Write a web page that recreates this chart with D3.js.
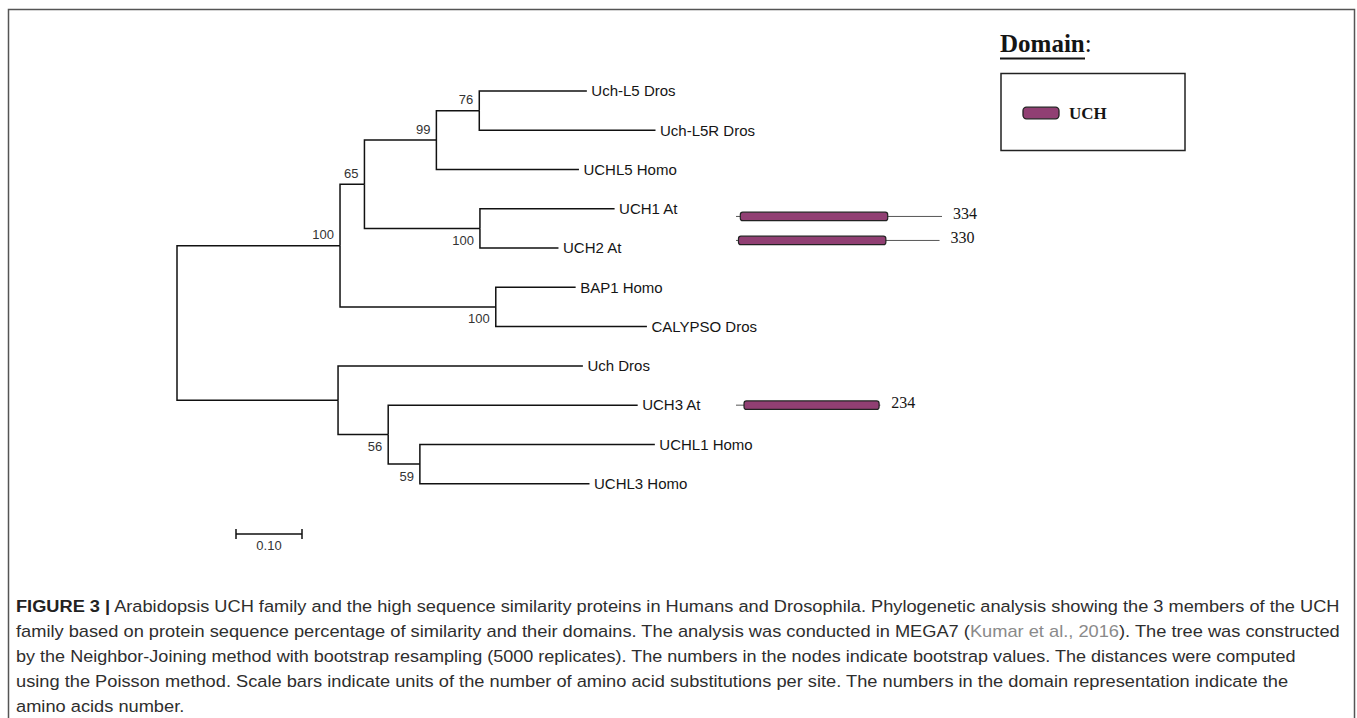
<!DOCTYPE html>
<html>
<head>
<meta charset="utf-8">
<script src="https://cdn.jsdelivr.net/npm/d3@7"></script>
<style>
  body { margin: 0; background: #fff; }
  svg { display: block; }
  .tip { font-family: "Liberation Sans", Arial, sans-serif; font-size: 15px; fill: #151515; }
  .boot { font-family: "Liberation Sans", Arial, sans-serif; font-size: 13px; fill: #333; }
  .serif { font-family: "Liberation Serif", "Times New Roman", serif; fill: #151515; }
  .caption { font-family: "Liberation Sans", Arial, sans-serif; font-size: 17px; fill: #2e2e2e; }
</style>
</head>
<body>
<div class="graph"></div>
<script>
// tree nodes (parents listed before children, tips in drawing order)
var nodeIds = ["root", "n100a", "n65", "n99", "n76", "Uch-L5 Dros", "Uch-L5R Dros", "UCHL5 Homo",
  "nAt", "UCH1 At", "UCH2 At", "nBap", "BAP1 Homo", "CALYPSO Dros",
  "nB", "Uch Dros", "n56", "UCH3 At", "n59", "UCHL1 Homo", "UCHL3 Homo"];
var nodeParents = ["", "root", "n100a", "n65", "n99", "n76", "n76", "n99",
  "n65", "nAt", "nAt", "n100a", "nBap", "nBap",
  "root", "nB", "nB", "n56", "n56", "n59", "n59"];
var branchLengths = [0, 0.247, 0.037, 0.109, 0.065, 0.163, 0.267, 0.216,
  0.175, 0.204, 0.119, 0.236, 0.121, 0.229,
  0.244, 0.371, 0.076, 0.378, 0.048, 0.356, 0.257];
var bootstrap = [null, 100, 65, 99, 76, null, null, null,
  100, null, null, 100, null, null,
  null, null, 56, null, 59, null, null];

// domain representation
var domainProteins = ["UCH1 At", "UCH2 At", "UCH3 At"];
var proteinLengths = [334, 330, 234];
var domainStarts = [7, 4, 13];
var domainEnds = [246, 243, 232];
var domainNames = ["UCH"];

var scaleBarValue = 0.10;

var captionLines = [
  [["FIGURE 3 |", "b"], [" Arabidopsis UCH family and the high sequence similarity proteins in Humans and Drosophila. Phylogenetic analysis showing the 3 members of the UCH", ""]],
  [["family based on protein sequence percentage of similarity and their domains. The analysis was conducted in MEGA7 (", ""], ["Kumar et al., 2016", "link"], ["). The tree was constructed", ""]],
  [["by the Neighbor-Joining method with bootstrap resampling (5000 replicates). The numbers in the nodes indicate bootstrap values. The distances were computed", ""]],
  [["using the Poisson method. Scale bars indicate units of the number of amino acid substitutions per site. The numbers in the domain representation indicate the", ""]],
  [["amino acids number.", ""]]
];
var captionRight = [1340, 1341, 1297, 1289, null];

var width = 1357, height = 718;
var purple = "#913f73";

var svg = d3.select(".graph").append("svg")
    .attr("width", width)
    .attr("height", height);

// figure frame
svg.append("rect")
    .attr("x", 8.5).attr("y", 9.5)
    .attr("width", 1346).attr("height", 730)
    .attr("fill", "none")
    .attr("stroke", "#555")
    .attr("stroke-width", 1.5);

// ---- tree ----
var table = nodeIds.map(function(id, i) {
  return {id: id, parent: nodeParents[i], len: branchLengths[i], boot: bootstrap[i]};
});
var root = d3.stratify()
    .id(function(d) { return d.id; })
    .parentId(function(d) { return d.parent || null; })(table);

root.eachBefore(function(d) {
  d.dist = (d.parent ? d.parent.dist : 0) + d.data.len;
});
var leaves = root.leaves();
leaves.forEach(function(d, i) { d.row = i; });
root.eachAfter(function(d) {
  if (d.children) d.row = (d.children[0].row + d.children[d.children.length - 1].row) / 2;
});

var x = d3.scaleLinear().domain([0, 0.1]).range([177, 243]);
var y = d3.scaleLinear().domain([0, leaves.length - 1]).range([91, 483.7]);

var tree = svg.append("g");

tree.selectAll(".link")
    .data(root.descendants().filter(function(d) { return d.parent; }))
  .enter().append("path")
    .attr("class", "link")
    .attr("fill", "none")
    .attr("stroke", "#111")
    .attr("stroke-width", 1.5)
    .attr("d", function(d) {
      return "M" + x(d.parent.dist) + "," + y(d.parent.row) +
             "V" + y(d.row) + "H" + x(d.dist);
    });

tree.selectAll(".tip")
    .data(leaves)
  .enter().append("text")
    .attr("class", "tip")
    .attr("x", function(d) { return x(d.dist) + 4.5; })
    .attr("y", function(d) { return y(d.row); })
    .attr("dy", "0.35em")
    .text(function(d) { return d.id; });

tree.selectAll(".boot")
    .data(root.descendants().filter(function(d) { return d.data.boot != null; }))
  .enter().append("text")
    .attr("class", "boot")
    .attr("text-anchor", "end")
    .attr("x", function(d) { return x(d.dist) - 6; })
    .attr("y", function(d) {
      var upper = d.parent && d.parent.children[0] === d;
      return y(d.row) + (upper ? -6.5 : 16.5);
    })
    .text(function(d) { return d.data.boot; });

// scale bar
var sbX = 236, sbY = 534, sbW = x(scaleBarValue) - x(0);
var sb = svg.append("g").attr("transform", "translate(" + sbX + "," + sbY + ")");
sb.append("path")
    .attr("d", "M0,-5V5M0,0H" + sbW + "M" + sbW + ",-5V5")
    .attr("fill", "none")
    .attr("stroke", "#111")
    .attr("stroke-width", 1.5);
sb.append("text")
    .attr("class", "boot")
    .attr("x", sbW / 2)
    .attr("y", 16)
    .attr("text-anchor", "middle")
    .text(scaleBarValue.toFixed(2));

// ---- domains ----
var xd = d3.scaleLinear().domain([0, 334]).range([736, 942]);
var barH = 8.5, barGap = 24;

var tipByName = {};
leaves.forEach(function(d) { tipByName[d.id] = d; });

var rows = domainProteins.map(function(name, i) {
  var tip = tipByName[name];
  var sibs = tip.parent.children.filter(function(c) { return domainProteins.indexOf(c.id) >= 0; });
  var cy;
  if (sibs.length > 1) {
    var k = sibs.indexOf(tip);
    cy = y(tip.parent.row) + (k - (sibs.length - 1) / 2) * barGap;
  } else {
    cy = y(tip.row);
  }
  return {name: name, len: proteinLengths[i], start: domainStarts[i], end: domainEnds[i], cy: cy};
});

var dom = svg.append("g");
dom.selectAll(".pline")
    .data(rows)
  .enter().append("line")
    .attr("x1", xd(0))
    .attr("x2", function(d) { return xd(d.len); })
    .attr("y1", function(d) { return d.cy; })
    .attr("y2", function(d) { return d.cy; })
    .attr("stroke", "#555")
    .attr("stroke-width", 1);

dom.selectAll(".dbar")
    .data(rows)
  .enter().append("rect")
    .attr("x", function(d) { return xd(d.start); })
    .attr("y", function(d) { return d.cy - barH / 2; })
    .attr("width", function(d) { return xd(d.end) - xd(d.start); })
    .attr("height", barH)
    .attr("rx", 2.5)
    .attr("fill", purple)
    .attr("stroke", "#222")
    .attr("stroke-width", 1.2);

dom.selectAll(".dlen")
    .data(rows)
  .enter().append("text")
    .attr("class", "serif")
    .attr("font-size", 16)
    .attr("x", function(d) { return xd(d.len) + 11; })
    .attr("y", function(d) { return d.cy + 3; })
    .text(function(d) { return d.len; });

// legend
var lg = svg.append("g");
var title = lg.append("text")
    .attr("class", "serif")
    .attr("x", 1000)
    .attr("y", 52)
    .attr("font-size", 25);
title.append("tspan").attr("font-weight", "bold").text("Domain");
title.append("tspan").text(":");
lg.append("line")
    .attr("x1", 1000).attr("x2", 1085)
    .attr("y1", 58.5).attr("y2", 58.5)
    .attr("stroke", "#151515")
    .attr("stroke-width", 2);
lg.append("rect")
    .attr("x", 1001).attr("y", 73.5)
    .attr("width", 184).attr("height", 77)
    .attr("fill", "none")
    .attr("stroke", "#222")
    .attr("stroke-width", 1.5);

var items = lg.selectAll(".item")
    .data(domainNames)
  .enter().append("g")
    .attr("transform", function(d, i) { return "translate(1023," + (113 + i * 24) + ")"; });
items.append("rect")
    .attr("x", 0).attr("y", -5.8)
    .attr("width", 36).attr("height", 11.6)
    .attr("rx", 3.5)
    .attr("fill", purple)
    .attr("stroke", "#222")
    .attr("stroke-width", 1.3);
items.append("text")
    .attr("class", "serif")
    .attr("x", 46)
    .attr("y", 6)
    .attr("font-size", 17)
    .attr("font-weight", "bold")
    .text(function(d) { return d; });

// ---- caption ----
var capX = 16, capY0 = 612, capStep = 25;
var lastScale = 1;
captionLines.forEach(function(segs, i) {
  var t = svg.append("text")
      .attr("class", "caption")
      .attr("transform", "translate(" + capX + "," + (capY0 + i * capStep) + ")");
  segs.forEach(function(s) {
    var ts = t.append("tspan").text(s[0]);
    if (s[1] === "b") ts.attr("font-weight", "bold").attr("fill", "#222");
    if (s[1] === "link") ts.attr("fill", "#8a8a8a");
  });
  var natural = t.node().getComputedTextLength();
  var sx = captionRight[i] ? (captionRight[i] - capX) / natural : lastScale;
  lastScale = sx;
  t.attr("transform", "translate(" + capX + "," + (capY0 + i * capStep) + ") scale(" + sx + ",1)");
});
</script>
</body>
</html>
